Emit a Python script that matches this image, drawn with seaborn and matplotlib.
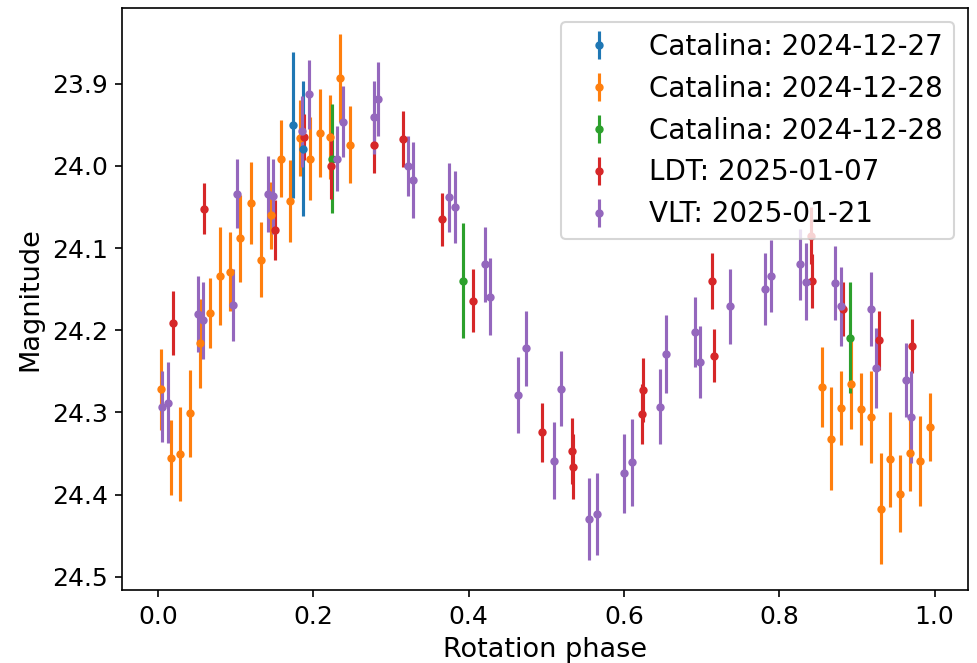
import matplotlib
matplotlib.use("Agg")
import matplotlib.pyplot as plt
import seaborn as sns

# ---- data ----
labels = ["Catalina: 2024-12-27", "Catalina: 2024-12-28", "Catalina: 2024-12-28",
          "LDT: 2025-01-07", "VLT: 2025-01-21"]

cat27_phase = [0.1739, 0.1868]
cat27_mag = [23.950, 23.979]
cat27_err = [0.089, 0.082]

cat28a_phase = [0.0036, 0.0165, 0.0289, 0.0418, 0.0543, 0.0671, 0.0795, 0.0923, 0.1052, 0.1194,
                0.1327, 0.1451, 0.1585, 0.1704, 0.1833, 0.1961, 0.2090, 0.2210, 0.2338, 0.2467,
                0.8551, 0.8671, 0.8800, 0.8929, 0.9057, 0.9186, 0.9315, 0.9430, 0.9550, 0.9678,
                0.9807, 0.9936]
cat28a_mag = [24.272, 24.355, 24.351, 24.301, 24.216, 24.179, 24.134, 24.129, 24.088, 24.045,
              24.114, 24.060, 23.991, 24.043, 23.966, 23.991, 23.960, 23.965, 23.893, 23.974,
              24.269, 24.332, 24.295, 24.266, 24.296, 24.306, 24.417, 24.357, 24.399, 24.350,
              24.359, 24.318]
cat28a_err = [0.049, 0.046, 0.057, 0.053, 0.054, 0.043, 0.060, 0.048, 0.053, 0.050,
              0.046, 0.041, 0.047, 0.050, 0.046, 0.050, 0.054, 0.051, 0.053, 0.047,
              0.049, 0.063, 0.045, 0.054, 0.044, 0.056, 0.067, 0.058, 0.047, 0.046,
              0.055, 0.041]

cat28b_phase = [0.2240, 0.3933, 0.8907]
cat28b_mag = [23.991, 24.140, 24.209]
cat28b_err = [0.066, 0.070, 0.068]

ldt_phase = [0.0199, 0.0594, 0.1507, 0.1875, 0.2223, 0.2776, 0.3154, 0.3663, 0.4062, 0.4941,
             0.5330, 0.5340, 0.6228, 0.6241, 0.7136, 0.7154, 0.8405, 0.8427, 0.8821, 0.9284,
             0.9713]
ldt_mag = [24.191, 24.052, 24.078, 23.965, 24.000, 23.974, 23.967, 24.065, 24.164, 24.324,
           24.347, 24.366, 24.302, 24.273, 24.140, 24.231, 24.085, 24.140, 24.174, 24.212,
           24.219]
ldt_err = [0.039, 0.031, 0.036, 0.028, 0.040, 0.035, 0.034, 0.032, 0.038, 0.036,
           0.040, 0.040, 0.037, 0.039, 0.034, 0.032, 0.035, 0.033, 0.033, 0.036,
           0.033]

vlt_phase = [0.0049, 0.0131, 0.0512, 0.0576, 0.0962, 0.1014, 0.1417, 0.1486, 0.1855, 0.1949,
             0.2305, 0.2382, 0.2776, 0.2840, 0.3226, 0.3282, 0.3753, 0.3826, 0.4212, 0.4277,
             0.4641, 0.4736, 0.5100, 0.5190, 0.5554, 0.5649, 0.6006, 0.6099, 0.6463, 0.6536,
             0.6913, 0.6986, 0.7372, 0.7814, 0.7900, 0.8273, 0.8341, 0.8714, 0.8800, 0.9186,
             0.9241, 0.9636, 0.9691]
vlt_mag = [24.293, 24.288, 24.180, 24.188, 24.169, 24.034, 24.034, 24.037, 23.958, 23.913,
           23.991, 23.946, 23.941, 23.919, 24.000, 24.017, 24.038, 24.050, 24.120, 24.159,
           24.279, 24.222, 24.359, 24.271, 24.430, 24.424, 24.374, 24.361, 24.293, 24.229,
           24.202, 24.239, 24.171, 24.150, 24.134, 24.120, 24.141, 24.143, 24.171, 24.174,
           24.246, 24.261, 24.306]
vlt_err = [0.043, 0.049, 0.046, 0.047, 0.044, 0.042, 0.046, 0.046, 0.043, 0.042,
           0.040, 0.043, 0.044, 0.045, 0.037, 0.046, 0.042, 0.044, 0.046, 0.047,
           0.046, 0.046, 0.047, 0.046, 0.050, 0.050, 0.048, 0.053, 0.046, 0.048,
           0.043, 0.044, 0.046, 0.044, 0.044, 0.043, 0.047, 0.045, 0.048, 0.045,
           0.049, 0.045, 0.056]

series = [
    (cat27_phase, cat27_mag, cat27_err),
    (cat28a_phase, cat28a_mag, cat28a_err),
    (cat28b_phase, cat28b_mag, cat28b_err),
    (ldt_phase, ldt_mag, ldt_err),
    (vlt_phase, vlt_mag, vlt_err),
]

colors = sns.color_palette("tab10", 5)

fig = plt.figure(figsize=(977 / 150, 663 / 150), dpi=150)
ax = fig.add_axes([122.3 / 977, 1 - 590 / 663, (968 - 122.3) / 977, (590 - 8) / 663])

for (ph, mg, er), lab, col in zip(series, labels, colors):
    ax.errorbar(ph, mg, yerr=er, fmt=".", color=col, label=lab)

ax.invert_yaxis()
ax.set_xlabel("Rotation phase", fontsize=13)
ax.set_ylabel("Magnitude", fontsize=13)
ax.tick_params(labelsize=12)
ax.legend(loc="upper right", fontsize=13.3)

fig.savefig("out.png", dpi=150)
